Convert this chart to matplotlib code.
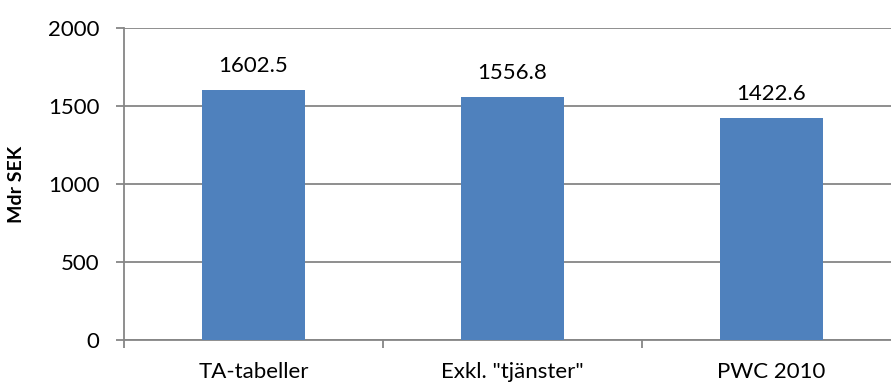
import matplotlib
matplotlib.use('Agg')
import matplotlib.pyplot as plt
import numpy as np

plt.rcParams['font.family'] = ['Lato', 'DejaVu Sans']

categories = ['TA-tabeller', 'Exkl. "tjänster"', 'PWC 2010']
values = [1602.5, 1556.8, 1422.6]
yticks = [0, 500, 1000, 1500, 2000]

bar_color = '#4F81BD'
grid_color = '#868686'

fig = plt.figure(figsize=(8.91, 3.83), dpi=100)
# plot area runs a little past the right edge of the figure
ax = fig.add_axes([124 / 891, 1 - 340 / 383, 777 / 891, 312 / 383])

x = np.arange(len(categories))
ax.bar(x, values, width=0.4, color=bar_color, zorder=3)
for xi, v in zip(x, values):
    ax.annotate(f'{v:.1f}', (xi, v), xytext=(0, 10), textcoords='offset points',
                ha='center', va='bottom', fontsize=16)

ax.set_xlim(-0.5, len(categories) - 0.5)
ax.set_ylim(0, 2000)
ax.set_yticks(yticks)
ax.yaxis.grid(True, color=grid_color, linewidth=1.3, zorder=0)

# category ticks sit on the boundaries between bars
ax.set_xticks(np.arange(len(categories) + 1) - 0.5)
ax.set_xticklabels([])
ax.set_xticks(x, minor=True)
ax.set_xticklabels(categories, minor=True, fontsize=16)
ax.tick_params(axis='x', which='minor', length=0, pad=16)
ax.tick_params(axis='x', which='major', length=5.5, color=grid_color, width=1.3)
ax.tick_params(axis='y', length=5.8, color=grid_color, width=1.3, labelsize=16, pad=12)

for side in ['top', 'right']:
    ax.spines[side].set_visible(False)
for side in ['left', 'bottom']:
    ax.spines[side].set_color(grid_color)
    ax.spines[side].set_linewidth(1.3)

ax.set_ylabel('Mdr SEK', fontsize=14, fontweight='bold')
ax.yaxis.set_label_coords(-0.127, 0.5)

fig.savefig('out.png', dpi=100)
